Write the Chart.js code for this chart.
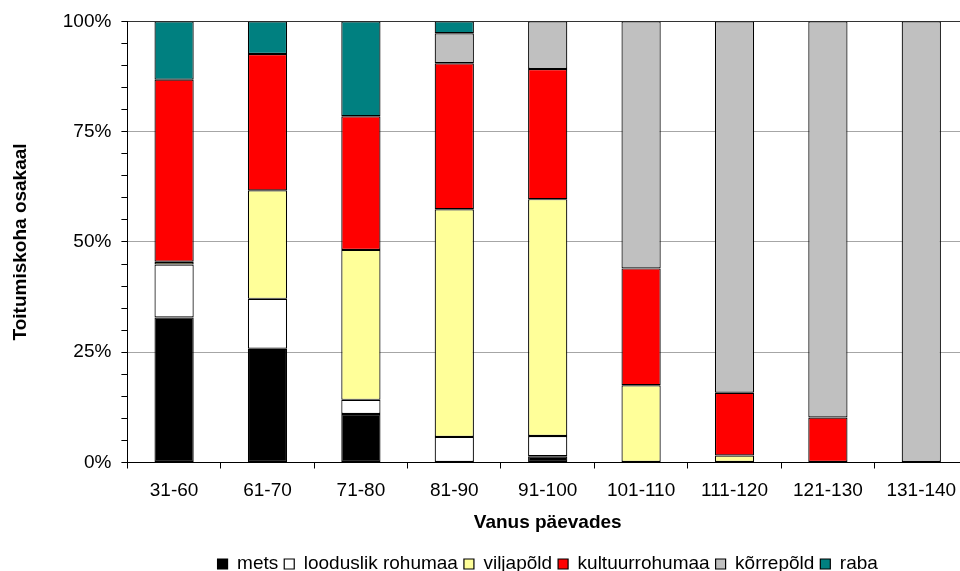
<!DOCTYPE html>
<html>
<head>
<meta charset="utf-8">
<script src="https://cdn.jsdelivr.net/npm/chart.js@4/dist/chart.umd.min.js"></script>
<style>
  html, body { margin: 0; padding: 0; background: #fff; overflow: hidden; }
  #wrap { width: 980px; height: 585px; }
</style>
</head>
<body>
<div id="wrap"><canvas id="c" width="980" height="585"></canvas></div>
<script>
// Age classes (days)
const categories = ['31-60', '61-70', '71-80', '81-90', '91-100', '101-110', '111-120', '121-130', '131-140'];

// Share of feeding habitat, % per age class
const mets       = [32.9, 25.8, 11.0, 0,    1.4,  0,    0,    0,    0];
const looduslik  = [12.0, 11.3, 3.2,  5.8,  4.6,  0,    0,    0,    0];
const viljapold  = [0.6,  24.6, 34.0, 51.6, 53.7, 17.5, 1.6,  0,    0];
const kultuur    = [41.3, 30.9, 30.3, 33.1, 29.5, 26.5, 14.2, 10.2, 0];
const korrepold  = [0,    0,    0,    6.8,  10.8, 56.0, 84.2, 89.8, 100];
const raba       = [13.2, 7.4,  21.5, 2.7,  0,    0,    0,    0,    0];

const yTickLabels = ['0%', '25%', '50%', '75%', '100%'];

const FONT = "'Liberation Sans', Arial, sans-serif";

function ds(label, data, color) {
  return {
    label: label,
    data: data,
    backgroundColor: color,
    borderColor: '#000000',
    // empty segments get no outline
    borderWidth: function (ctx) { return ctx.raw ? 1.2 : 0; },
    borderSkipped: false,
    inflateAmount: 0,
    barPercentage: 0.42,
    categoryPercentage: 1.0
  };
}

new Chart(document.getElementById('c'), {
  type: 'bar',
  data: {
    labels: categories,
    datasets: [
      ds('mets', mets, '#000000'),
      ds('looduslik rohumaa', looduslik, '#ffffff'),
      ds('viljapõld', viljapold, '#ffff99'),
      ds('kultuurrohumaa', kultuur, '#ff0000'),
      ds('kõrrepõld', korrepold, '#c0c0c0'),
      ds('raba', raba, '#008080')
    ]
  },
  options: {
    responsive: false,
    devicePixelRatio: 1,
    animation: false,
    layout: { padding: { top: 21, right: 12, left: 0, bottom: 1.5 } },
    plugins: {
      tooltip: { enabled: false },
      legend: {
        position: 'bottom',
        fullSize: false,
        labels: {
          font: { family: FONT, size: 19 },
          color: '#000',
          boxWidth: 10,
          boxHeight: 10,
          padding: 6,
          generateLabels: function (chart) {
            return chart.data.datasets.map(function (d, i) {
              return {
                text: d.label,
                fillStyle: d.backgroundColor,
                strokeStyle: '#000',
                lineWidth: 1.2,
                fontColor: '#000',
                datasetIndex: i,
                hidden: false
              };
            });
          }
        }
      }
    },
    scales: {
      x: {
        stacked: true,
        grid: {
          offset: true,
          drawOnChartArea: false,
          drawTicks: true,
          tickLength: 6,
          tickColor: '#000',
          color: '#000'
        },
        border: { color: '#000', width: 1 },
        ticks: {
          font: { family: FONT, size: 19, lineHeight: 1.0 },
          color: '#000',
          padding: 13,
          maxRotation: 0,
          autoSkip: false
        },
        title: {
          display: true,
          text: 'Vanus päevades',
          font: { family: FONT, size: 19, weight: 'bold', lineHeight: 1.0 },
          color: '#000',
          padding: { top: 0, bottom: 16 }
        }
      },
      y: {
        stacked: true,
        min: 0,
        max: 100,
        grid: {
          drawTicks: true,
          tickLength: 6,
          tickColor: '#000',
          lineWidth: 1,
          color: function (ctx) {
            const v = ctx.tick ? ctx.tick.value : null;
            if (v === 100) return '#333333';
            if (v === 25 || v === 50 || v === 75) return '#a6a6a6';
            return 'rgba(0,0,0,0)';
          }
        },
        border: { color: '#000', width: 1 },
        ticks: {
          stepSize: 5,
          autoSkip: false,
          font: { family: FONT, size: 19 },
          color: '#000',
          padding: 10,
          callback: function (value) {
            return value % 25 === 0 ? yTickLabels[value / 25] : '';
          }
        },
        title: {
          display: true,
          text: 'Toitumiskoha osakaal',
          font: { family: FONT, size: 19, weight: 'bold' },
          color: '#000',
          padding: { top: 9, bottom: 21 }
        }
      }
    }
  }
});
</script>
</body>
</html>
